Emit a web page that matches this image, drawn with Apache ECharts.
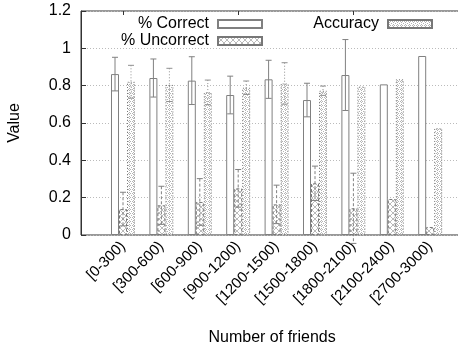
<!DOCTYPE html>
<html><head><meta charset="utf-8">
<script src="https://cdn.jsdelivr.net/npm/echarts@6/dist/echarts.min.js"></script>
<style>html,body{margin:0;padding:0;background:#fff}#c{width:458px;height:347px}</style>
</head><body><div id="c"></div>
<script>
const categories = ['[0-300)','[300-600)','[600-900)','[900-1200)','[1200-1500)','[1500-1800)','[1800-2100)','[2100-2400)','[2700-3000)'];
const correct      = [0.862, 0.841, 0.827, 0.750, 0.834, 0.723, 0.857, 0.807, 0.959];
const correctErr   = [0.090, 0.102, 0.128, 0.101, 0.102, 0.090, 0.190, 0, 0];
const uncorrect    = [0.139, 0.159, 0.177, 0.250, 0.164, 0.277, 0.143, 0.193, 0.043];
const uncorrectErr = [0.090, 0.102, 0.125, 0.101, 0.103, 0.092, 0.188, 0, 0];
const accuracy     = [0.821, 0.804, 0.764, 0.789, 0.812, 0.773, 0.795, 0.834, 0.572];
const accuracyErr  = [0.088, 0.089, 0.066, 0.036, 0.111, 0.025, 0, 0, 0];
const yTicks = [0, 0.2, 0.4, 0.6, 0.8, 1, 1.2];

const FONT = "'Liberation Sans', Arial, sans-serif";

function makePattern(kind) {
  const c = document.createElement('canvas');
  const s = kind === 'x' ? 6 : 4;
  c.width = s; c.height = s;
  const ctx = c.getContext('2d');
  ctx.fillStyle = '#fff'; ctx.fillRect(0, 0, s, s);
  if (kind === 'x') {
    ctx.strokeStyle = '#a8a8a8'; ctx.lineWidth = 0.8;
    ctx.beginPath();
    ctx.moveTo(0, 0); ctx.lineTo(s, s);
    ctx.moveTo(s, 0); ctx.lineTo(0, s);
    ctx.stroke();
  } else {
    ctx.fillStyle = '#b4b4b4';
    ctx.fillRect(1, 0, 1, 1); ctx.fillRect(0, 1, 1, 1); ctx.fillRect(2, 1, 1, 1); ctx.fillRect(1, 2, 1, 1);
    ctx.fillRect(3, 3, 1, 1);
  }
  return c;
}
const patX = makePattern('x');
const patD = makePattern('d');

const chart = echarts.init(document.getElementById('c'), null, {renderer: 'canvas'});

function errSeries(name, vals, errs, dx, dash, color) {
  return {
    type: 'custom', name: name + ' err', xAxisIndex: 1, yAxisIndex: 1, z: 5,
    silent: true,
    data: vals.map((v, i) => [i, v, errs[i]]),
    renderItem: function (params, api) {
      const e = api.value(2);
      if (!e) return null;
      const x = api.value(0), v = api.value(1);
      const pt = api.coord([x, v + e]);
      const pb = api.coord([x, v - e]);
      const cx = pt[0] + dx;
      const st = {stroke: color, lineWidth: 1, lineDash: dash};
      return {type: 'group', children: [
        {type: 'line', shape: {x1: cx, y1: pt[1], x2: cx, y2: pb[1]}, style: st},
        {type: 'line', shape: {x1: cx - 3, y1: pt[1], x2: cx + 3, y2: pt[1]}, style: {stroke: color, lineWidth: 1}},
        {type: 'line', shape: {x1: cx - 3, y1: pb[1], x2: cx + 3, y2: pb[1]}, style: {stroke: color, lineWidth: 1}}
      ]};
    }
  };
}

const legendBase = {
  icon: 'rect', itemWidth: 44, itemHeight: 8, align: 'right', padding: 0,
  textStyle: {fontFamily: FONT, fontSize: 16, color: '#000', padding: [0, 4, 0, 0]}, selectedMode: false
};

chart.setOption({
  animation: false,
  backgroundColor: '#fff',
  textStyle: {fontFamily: FONT},
  grid: [
    {left: 81, top: 11, bottom: 112, right: -30, show: true, borderColor: '#333', borderWidth: 1,
     containLabel: false, outerBoundsMode: 'none'},
    {left: 103.8, width: 345.6, top: 11, bottom: 112, containLabel: false, outerBoundsMode: 'none'}
  ],
  legend: [
    Object.assign({}, legendBase, {data: ['% Correct'], right: 195, top: 16}),
    Object.assign({}, legendBase, {data: ['% Uncorrect'], right: 195, top: 33}),
    Object.assign({}, legendBase, {data: ['Accuracy'], right: 25, top: 16})
  ],
  xAxis: [
    {type: 'category', gridIndex: 0, data: [], show: false},
    {type: 'category', gridIndex: 1, data: categories,
     axisLine: {show: false}, axisTick: {show: false},
     axisLabel: {rotate: 45, margin: 9, fontSize: 15, color: '#000', fontFamily: FONT, interval: 0},
     name: 'Number of friends', nameLocation: 'middle', nameGap: 95,
     nameTextStyle: {fontSize: 16, color: '#000', fontFamily: FONT, padding: [0, 9, 0, 0]}},
    {type: 'category', gridIndex: 1, data: categories, position: 'top',
     axisLine: {show: false}, axisLabel: {show: false},
     axisTick: {show: true, inside: true, length: 4, alignWithLabel: true, lineStyle: {color: '#333'}}}
  ],
  yAxis: [
    {type: 'value', gridIndex: 0, min: yTicks[0], max: yTicks[yTicks.length - 1], interval: 0.2,
     axisLine: {show: true, lineStyle: {color: '#333'}},
     axisTick: {show: true, inside: true, length: 5, lineStyle: {color: '#333'}},
     axisLabel: {fontSize: 16, color: '#000', margin: 10, fontFamily: FONT},
     splitLine: {show: true, lineStyle: {color: '#bbb', type: [1, 2], width: 1}},
     name: 'Value', nameLocation: 'middle', nameGap: 58,
     nameTextStyle: {fontSize: 16, color: '#000', fontFamily: FONT}},
    {type: 'value', gridIndex: 1, min: 0, max: 1.2, interval: 0.2, show: false, splitLine: {show: false}}
  ],
  series: [
    {type: 'bar', name: '% Correct', xAxisIndex: 1, yAxisIndex: 1, data: correct,
     barWidth: 8, barGap: '0%',
     itemStyle: {color: '#fff', borderColor: '#808080', borderWidth: 1}},
    {type: 'bar', name: '% Uncorrect', xAxisIndex: 1, yAxisIndex: 1, data: uncorrect,
     barWidth: 8, barGap: '0%',
     itemStyle: {color: {image: patX, repeat: 'repeat'}, borderColor: '#777', borderWidth: 1, borderType: [3, 2]}},
    {type: 'bar', name: 'Accuracy', xAxisIndex: 1, yAxisIndex: 1, data: accuracy,
     barWidth: 8, barGap: '0%',
     itemStyle: {color: {image: patD, repeat: 'repeat'}, borderColor: '#777', borderWidth: 1, borderType: [1, 2]}},
    errSeries('% Correct', correct, correctErr, -8, null, '#808080'),
    errSeries('% Uncorrect', uncorrect, uncorrectErr, 0, [3, 2], '#808080'),
    errSeries('Accuracy', accuracy, accuracyErr, 8, [1, 2], '#909090')
  ]
});
</script></body></html>
